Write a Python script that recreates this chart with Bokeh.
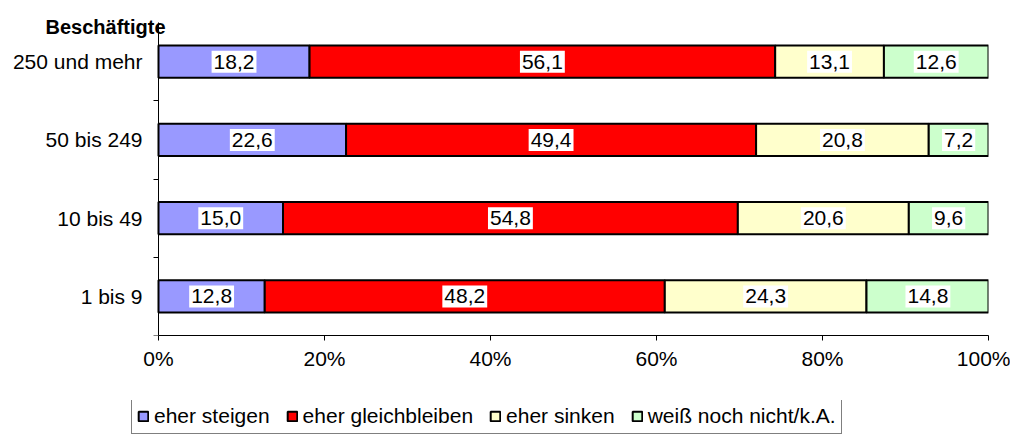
from bokeh.plotting import figure
from bokeh.layouts import column
from bokeh.models import (ColumnDataSource, FixedTicker, Legend, LegendItem, Range1d)
from bokeh.core.properties import value
from bokeh.embed import file_html
from bokeh.resources import INLINE

categories = ["1 bis 9", "10 bis 49", "50 bis 249", "250 und mehr"]
series = ["eher steigen", "eher gleichbleiben", "eher sinken", "weiß noch nicht/k.A."]
steigen = [12.8, 15.0, 22.6, 18.2]
gleich = [48.2, 54.8, 49.4, 56.1]
sinken = [24.3, 20.6, 20.8, 13.1]
weiss = [14.8, 9.6, 7.2, 12.6]
colors = ["#9999FF", "#FF0000", "#FFFFCC", "#CCFFCC"]
x_ticks = [0, 20, 40, 60, 80, 100]
x_tick_labels = ["0%", "20%", "40%", "60%", "80%", "100%"]
axis_title = "Beschäftigte"

FONT = "Liberation Sans"
FS = "21px"

n = len(categories)
ypos = [i + 0.5 for i in range(n)]
src = ColumnDataSource(dict(y=ypos, s0=steigen, s1=gleich, s2=sinken, s3=weiss))

# frame spans from the left page edge so that the category texts live inside it;
# the value axis starts at 0 (150 px into the frame)
PX_PER_PCT = 8.3
Y_PX = 78.25
p = figure(width=1010, height=400, output_backend="svg", toolbar_location=None,
           x_range=Range1d(-150 / PX_PER_PCT, 100),
           y_range=Range1d(0, n + 22 / Y_PX),
           min_border_left=8, min_border_right=22, min_border_top=0, min_border_bottom=65)
p.outline_line_color = None
p.xgrid.visible = False
p.ygrid.visible = False

rs = p.hbar_stack(["s0", "s1", "s2", "s3"], y="y", height=0.41, source=src,
                  color=colors, line_color="black", line_width=2)

# data labels
cols = [steigen, gleich, sinken, weiss]
lx, ly, lt = [], [], []
for j in range(n):
    acc = 0.0
    for s in cols:
        v = s[j]
        lx.append(acc + v / 2)
        ly.append(ypos[j])
        lt.append(f"{v:.1f}".replace(".", ","))
        acc += v
lsrc = ColumnDataSource(dict(x=lx, y=ly, t=lt))
p.text(x="x", y="y", text="t", source=lsrc, text_align="center", text_baseline="middle",
       text_font=value(FONT), text_font_size=FS, text_color="black",
       background_fill_color="white", padding=(2, 4))

# category labels (left of the value axis)
csrc = ColumnDataSource(dict(x=[-16 / PX_PER_PCT] * n, y=ypos, t=categories))
p.text(x="x", y="y", text="t", source=csrc, text_align="right", text_baseline="middle",
       text_font=value(FONT), text_font_size=FS, text_color="black")

# axis title
p.text(x=[-113 / PX_PER_PCT], y=[(313 - 4) / Y_PX], text=[axis_title], text_align="left",
       text_baseline="alphabetic", text_font=value(FONT), text_font_size="20px",
       text_font_style="bold", text_color="black")

# x axis
xa = p.xaxis[0]
xa.ticker = FixedTicker(ticks=x_ticks)
xa.bounds = (0, 100)
xa.major_label_overrides = {t: l for t, l in zip(x_ticks, x_tick_labels)}
xa.major_tick_in = 0
xa.major_tick_out = 5
xa.minor_tick_line_color = None
xa.major_label_standoff = 6
xa.major_label_text_font = FONT
xa.major_label_text_font_size = FS
xa.major_label_text_color = "black"
xa.axis_line_color = "black"
xa.major_tick_line_color = "black"

# y axis, drawn at x = 0
ya = p.yaxis[0]
ya.fixed_location = 0
ya.bounds = (0, n)
ya.ticker = FixedTicker(ticks=ypos, minor_ticks=[0, 1, 2, 3])
ya.major_label_overrides = {y: "" for y in ypos}
ya.major_label_text_font_size = "1px"
ya.major_label_standoff = 0
ya.major_tick_line_color = None
ya.major_tick_in = 0
ya.major_tick_out = 0
ya.minor_tick_in = 0
ya.minor_tick_out = 5
ya.minor_tick_line_color = "black"
ya.axis_line_color = "black"

# legend in its own strip below
lg = figure(width=1010, height=36, output_backend="svg", toolbar_location=None,
            x_range=Range1d(0, 1), y_range=Range1d(0, 1),
            x_axis_location=None, y_axis_location=None,
            min_border_left=8, min_border_right=22, min_border_top=0, min_border_bottom=0)
lg.outline_line_color = None
lg.grid.visible = False
dummy = ColumnDataSource(dict(x=[5.0], y=[5.0]))
lrs = [lg.rect(x="x", y="y", width=0.1, height=0.1, source=dummy, fill_color=colors[i],
               line_color="black", line_width=2) for i in range(4)]
legend = Legend(items=[LegendItem(label=series[i], renderers=[lrs[i]]) for i in range(4)],
                orientation="horizontal", location=(123, 2),
                label_text_font=FONT, label_text_font_size=FS, label_text_color="black",
                glyph_width=12, glyph_height=12, label_standoff=5, spacing=16,
                padding=5, margin=0, border_line_color="black", border_line_width=1,
                background_fill_color="white", label_height=20)
lg.add_layout(legend, "center")

layout = column(p, lg, spacing=0)
open("out.html", "w").write(file_html(layout, INLINE))
